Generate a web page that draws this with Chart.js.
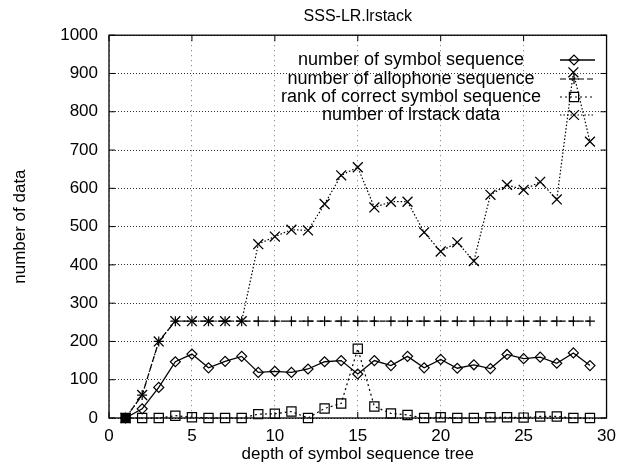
<!DOCTYPE html>
<html>
<head>
<meta charset="utf-8">
<script src="https://cdn.jsdelivr.net/npm/chart.js"></script>
<style>
    html, body { margin: 0; padding: 0; background: #fff; }
    #wrap { width: 624px; height: 466px; }
</style>
</head>
<body>
<div id="wrap"><canvas id="lrstackChart" width="624" height="466"></canvas></div>
<script>
// depth of symbol sequence tree (x)
const depth = [1, 2, 3, 4, 5, 6, 7, 8, 9, 10, 11, 12, 13, 14, 15, 16, 17, 18, 19, 20, 21, 22, 23, 24, 25, 26, 27, 28, 29];

const symbolSeq = [0, 24, 80, 147, 167, 131, 148, 161, 119, 122, 119, 128, 147, 150, 115, 150, 137, 161, 131, 153, 130, 139, 129, 166, 155, 159, 143, 170, 137];
const allophoneSeq = [0, 60, 200, 253, 253, 253, 253, 253, 253, 253, 253, 253, 253, 253, 253, 253, 253, 253, 253, 253, 253, 253, 253, 253, 253, 253, 253, 253, 253];
const correctRank = [0, 0, 0, 6, 2, 0, 0, 0, 10, 11, 17, 0, 25, 38, 181, 30, 12, 8, 0, 2, 0, 0, 2, 2, 1, 4, 4, 0, 0];
const lrstackData = [0, 60, 200, 253, 253, 253, 253, 253, 454, 474, 492, 490, 559, 634, 655, 550, 565, 565, 485, 435, 459, 410, 583, 609, 596, 617, 571, 903, 722];

const seriesLabels = [
    'number of symbol sequence',
    'number of allophone sequence',
    'rank of correct symbol sequence',
    'number of lrstack data'
];

const xTicks = [0, 5, 10, 15, 20, 25, 30];
const yTicks = [0, 100, 200, 300, 400, 500, 600, 700, 800, 900, 1000];

const FONT = "'Liberation Sans', Arial, Helvetica, sans-serif";

function toPoints(values) {
    return depth.map((d, i) => ({ x: d, y: values[i] }));
}

// gnuplot style frame, inward ticks and key
const gnuplotFrame = {
    id: 'gnuplotFrame',
    afterDraw(chart) {
        const ctx = chart.ctx;
        const area = chart.chartArea;
        const xs = chart.scales.x;
        const ys = chart.scales.y;

        ctx.save();
        ctx.strokeStyle = '#000';
        ctx.lineWidth = 1.3;
        ctx.setLineDash([]);
        ctx.strokeRect(area.left, area.top, area.right - area.left, area.bottom - area.top);

        ctx.lineWidth = 1;
        ctx.beginPath();
        xTicks.forEach(v => {
            const px = xs.getPixelForValue(v);
            ctx.moveTo(px, area.bottom);
            ctx.lineTo(px, area.bottom - 6);
            ctx.moveTo(px, area.top);
            ctx.lineTo(px, area.top + 6);
        });
        yTicks.forEach(v => {
            const py = ys.getPixelForValue(v);
            ctx.moveTo(area.left, py);
            ctx.lineTo(area.left + 6, py);
            ctx.moveTo(area.right, py);
            ctx.lineTo(area.right - 6, py);
        });
        ctx.stroke();

        // key
        const rows = [60, 79, 97, 115];
        ctx.font = '18px ' + FONT;
        ctx.fillStyle = '#000';
        ctx.textAlign = 'center';
        ctx.textBaseline = 'middle';
        chart.data.datasets.forEach((ds, i) => {
            const y = rows[i];
            ctx.fillText(ds.label, 411, y);
            ctx.save();
            ctx.strokeStyle = ds.borderColor;
            ctx.lineWidth = ds.borderWidth;
            ctx.setLineDash(ds.borderDash || []);
            ctx.beginPath();
            ctx.moveTo(560, y);
            ctx.lineTo(595, y);
            ctx.stroke();
            ctx.setLineDash([]);
            ctx.fillStyle = 'rgba(0,0,0,0)';
            ctx.strokeStyle = '#000';
            ctx.lineWidth = 1.2;
            Chart.helpers.drawPoint(ctx, {
                pointStyle: ds.pointStyle,
                radius: ds.pointRadius,
                rotation: 0,
                borderWidth: 1.2
            }, 574, y);
            ctx.restore();
        });
        ctx.restore();
    }
};

const chartElement = document.querySelector('#lrstackChart');

new Chart(chartElement, {
    type: 'line',
    data: {
        datasets: [{
            label: seriesLabels[0],
            data: toPoints(symbolSeq),
            borderColor: '#000',
            borderWidth: 1.3,
            borderDash: [],
            pointStyle: 'rectRot',
            pointRadius: 5,
            pointBorderWidth: 1.2,
            pointBorderColor: '#000',
            pointBackgroundColor: 'rgba(0,0,0,0)',
            clip: false
        }, {
            label: seriesLabels[1],
            data: toPoints(allophoneSeq),
            borderColor: '#000',
            borderWidth: 1.2,
            borderDash: [6, 3],
            pointStyle: 'cross',
            pointRadius: 5,
            pointBorderWidth: 1.2,
            pointBorderColor: '#000',
            pointBackgroundColor: 'rgba(0,0,0,0)',
            clip: false
        }, {
            label: seriesLabels[2],
            data: toPoints(correctRank),
            borderColor: '#000',
            borderWidth: 1.2,
            borderDash: [2, 3],
            pointStyle: 'rect',
            pointRadius: 6.5,
            pointBorderWidth: 1.2,
            pointBorderColor: '#000',
            pointBackgroundColor: ctx => ctx.dataIndex === 0 ? '#000' : 'rgba(0,0,0,0)',
            clip: false
        }, {
            label: seriesLabels[3],
            data: toPoints(lrstackData),
            borderColor: '#000',
            borderWidth: 1.2,
            borderDash: [1.5, 2],
            pointStyle: 'crossRot',
            pointRadius: 7,
            pointBorderWidth: 1.3,
            pointBorderColor: '#000',
            pointBackgroundColor: 'rgba(0,0,0,0)',
            clip: false
        }]
    },
    options: {
        responsive: false,
        animation: false,
        layout: {
            padding: { left: 0, right: 11, top: 0, bottom: 0 }
        },
        plugins: {
            legend: { display: false },
            tooltip: { enabled: false },
            title: {
                display: true,
                text: 'SSS-LR.lrstack',
                fullSize: false,
                color: '#000',
                font: { family: FONT, size: 16, weight: 'normal' },
                padding: { top: 7, bottom: 9 }
            }
        },
        scales: {
            x: {
                type: 'linear',
                min: 0,
                max: 30,
                afterFit: scale => { scale.height = 48; },
                afterBuildTicks: scale => { scale.ticks = xTicks.map(v => ({ value: v })); },
                ticks: {
                    color: '#000',
                    padding: 8,
                    maxRotation: 0,
                    font: { family: FONT, size: 17 },
                    callback: value => String(value)
                },
                grid: {
                    color: '#777',
                    drawTicks: false
                },
                border: { display: false, dash: [1, 4] },
                title: {
                    display: true,
                    text: 'depth of symbol sequence tree',
                    color: '#000',
                    font: { family: FONT, size: 17 },
                    padding: { top: 0, bottom: 1 }
                }
            },
            y: {
                min: 0,
                max: 1000,
                afterFit: scale => { scale.width = 109; },
                afterBuildTicks: scale => { scale.ticks = yTicks.map(v => ({ value: v })); },
                ticks: {
                    color: '#000',
                    padding: 11,
                    font: { family: FONT, size: 17 },
                    callback: value => String(value)
                },
                grid: {
                    color: '#333',
                    drawTicks: false
                },
                border: { display: false, dash: [1, 2] },
                title: {
                    display: true,
                    text: 'number of data',
                    color: '#000',
                    font: { family: FONT, size: 17 },
                    padding: { top: 10, bottom: 0 }
                }
            }
        }
    },
    plugins: [gnuplotFrame]
});
</script>
</body>
</html>
